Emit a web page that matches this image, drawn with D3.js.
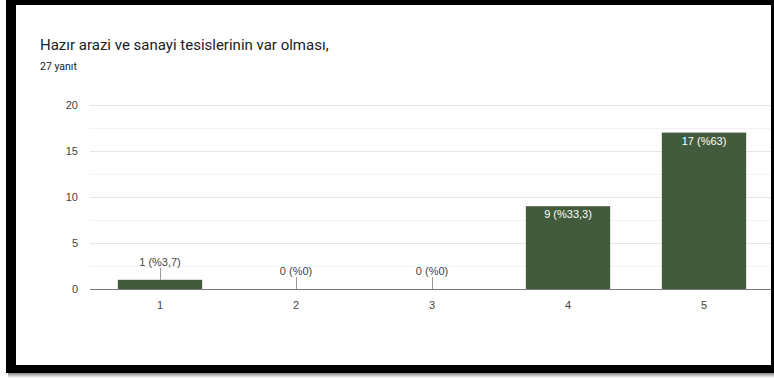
<!DOCTYPE html>
<html>
<head>
<meta charset="UTF-8">
<title>Hazır arazi</title>
<script src="https://d3js.org/d3.v7.min.js"></script>
<style>
body { margin: 0; background: #fff; }
svg { display: block; font-family: "Liberation Sans", Arial, sans-serif; }
</style>
</head>
<body>
<svg width="774" height="378"></svg>
<script>
// data
var categories = ["1", "2", "3", "4", "5"];
var counts = [1, 0, 0, 9, 17];
var barLabels = ["1 (%3,7)", "0 (%0)", "0 (%0)", "9 (%33,3)", "17 (%63)"];
var yTicks = [0, 5, 10, 15, 20];
var yMinor = [2.5, 7.5, 12.5, 17.5];

var svg = d3.select("svg");

// screenshot frame + shadow
var shadow = svg.append("defs").append("linearGradient")
    .attr("id", "shd").attr("x1", 0).attr("y1", 0).attr("x2", 0).attr("y2", 1);
shadow.append("stop").attr("offset", "0%").attr("stop-color", "#888");
shadow.append("stop").attr("offset", "100%").attr("stop-color", "#fff");
svg.append("rect").attr("x", 8).attr("y", 373).attr("width", 766).attr("height", 5).attr("fill", "url(#shd)");
svg.append("rect").attr("x", 6).attr("y", 0).attr("width", 768).attr("height", 373).attr("fill", "#000");
svg.append("rect").attr("x", 16).attr("y", 5).attr("width", 755).attr("height", 360).attr("fill", "#fff");

svg.append("clipPath").attr("id", "clip")
  .append("rect").attr("x", 16).attr("y", 5).attr("width", 755).attr("height", 360);

svg.append("text")
    .attr("x", 40).attr("y", 50)
    .style("font-family", "Roboto, sans-serif")
    .style("font-size", "15px")
    .attr("fill", "#202124")
    .text("Hazır arazi ve sanayi tesislerinin var olması,");

svg.append("text")
    .attr("x", 40).attr("y", 70)
    .style("font-family", "Roboto, sans-serif")
    .style("font-size", "10.5px")
    .attr("fill", "#202124")
    .text("27 yanıt");

var plotLeft = 92, plotBottom = 289, plotTop = 105;
var x = d3.scaleBand().domain(categories).range([plotLeft, plotLeft + 680]).paddingInner(0.38).paddingOuter(0.19);
var y = d3.scaleLinear().domain([0, 20]).range([plotBottom, plotTop]);

var g = svg.append("g").attr("clip-path", "url(#clip)");

// grid
g.selectAll(".minor").data(yMinor).enter().append("line")
    .attr("x1", 90).attr("x2", 780)
    .attr("y1", function(d) { return Math.round(y(d)) + 0.5; })
    .attr("y2", function(d) { return Math.round(y(d)) + 0.5; })
    .attr("stroke", "#f3f3f3");
g.selectAll(".major").data(yTicks.slice(1)).enter().append("line")
    .attr("x1", 90).attr("x2", 780)
    .attr("y1", function(d) { return Math.round(y(d)) + 0.5; })
    .attr("y2", function(d) { return Math.round(y(d)) + 0.5; })
    .attr("stroke", "#e6e6e6");

svg.selectAll(".ylab").data(yTicks).enter().append("text")
    .attr("x", 78)
    .attr("y", function(d) { return y(d) + 4; })
    .attr("text-anchor", "end")
    .style("font-size", "11px")
    .attr("fill", "#444")
    .text(function(d) { return d; });

// bars
g.selectAll(".bar").data(counts).enter().append("rect")
    .attr("x", function(d, i) { return x(categories[i]); })
    .attr("width", x.bandwidth())
    .attr("y", function(d) { return y(d); })
    .attr("height", function(d) { return plotBottom - y(d); })
    .attr("fill", "#415b3c");

// axis line
g.append("line")
    .attr("x1", 90).attr("x2", 780)
    .attr("y1", plotBottom + 0.5).attr("y2", plotBottom + 0.5)
    .attr("stroke", "#777").attr("stroke-width", 1.2);

svg.selectAll(".xlab").data(categories).enter().append("text")
    .attr("x", function(d) { return x(d) + x.bandwidth() / 2; })
    .attr("y", 309)
    .attr("text-anchor", "middle")
    .style("font-size", "11px")
    .attr("fill", "#444")
    .text(function(d) { return d; });

// value labels
counts.forEach(function(d, i) {
  var cx = x(categories[i]) + x.bandwidth() / 2;
  var yt = y(d);
  if (plotBottom - yt > 20) {
    g.append("text")
      .attr("x", cx).attr("y", yt + 12)
      .attr("text-anchor", "middle")
      .style("font-size", "11px")
      .attr("fill", "#fff")
      .text(barLabels[i]);
  } else {
    g.append("line")
      .attr("x1", Math.round(cx) + 0.5).attr("x2", Math.round(cx) + 0.5)
      .attr("y1", yt - 12).attr("y2", yt)
      .attr("stroke", "#999");
    g.append("text")
      .attr("x", cx).attr("y", yt - 14)
      .attr("text-anchor", "middle")
      .style("font-size", "11px")
      .attr("fill", "#444")
      .text(barLabels[i]);
  }
});
</script>
</body>
</html>
